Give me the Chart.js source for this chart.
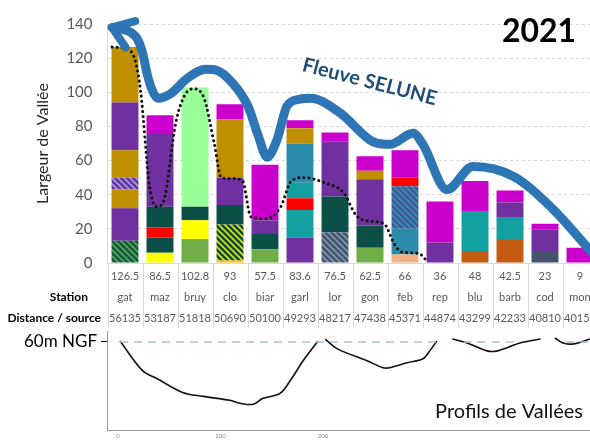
<!DOCTYPE html>
<html>
<head>
<meta charset="utf-8">
<script src="https://cdn.jsdelivr.net/npm/chart.js@4.4.1/dist/chart.umd.min.js"></script>
<style>
  html, body { margin: 0; padding: 0; background: #fff; overflow: hidden; }
  #wrap { position: relative; width: 600px; height: 440px; }
  #valley { position: absolute; left: 0; top: 0; }
  #profiles { position: absolute; left: 0; top: 322px; }
</style>
</head>
<body>
<div id="wrap">
  <canvas id="valley" width="600" height="330"></canvas>
  <canvas id="profiles" width="600" height="118"></canvas>
</div>
<script>
const stations = ['gat', 'maz', 'bruy', 'clo', 'biar', 'garl', 'lor', 'gon', 'feb', 'rep', 'blu', 'barb', 'cod', 'mon'];
const distances = ['56135', '53187', '51818', '50690', '50100', '49293', '48217', '47438', '45371', '44874', '43299', '42233', '40810', '40155'];

// valley width pieces per station, stacked from the bottom up
const layer1 = [13, 6, 14, 1.5, 8, 15, 18, 9, 5, 12, 7, 14, 6.5, 9];
const layer2 = [19, 9, 11, 21, 9, 16, 21, 13, 15, 24, 23, 13, 13, null];
const layer3 = [11, 6, 8, 11.5, 8, 7, 32, 27, 25, null, 18, 8.5, 3.5, null];
const layer4 = [7, 12, 69.8, 16, 32.5, 9, 5.5, 5, 5, null, null, 7, null, null];
const layer5 = [16, 42.5, null, 34, null, 23, null, 8.5, 16, null, null, null, null, null];
const layer6 = [28, 11, null, 9, null, 9, null, null, null, null, null, null, null, null];
const layer7 = [32.5, null, null, null, null, 4.6, null, null, null, null, null, null, null, null];

const fill1 = ['hGreen', 'yellow', 'green', 'amber', 'green', 'purple', 'hSlate', 'green', 'peach', 'purple', 'orange', 'orange', 'slate', 'magenta'];
const fill2 = ['purple', 'dkgreen', 'yellow', 'hYellow', 'dkgreen', 'teal', 'dkgreen', 'dkgreen', 'blueteal', 'magenta', 'teal', 'teal', 'purple', null];
const fill3 = ['gold', 'red', 'dkgreen', 'dkgreen', 'purple', 'red', 'purple', 'purple', 'hTeal', null, 'magenta', 'purple', 'magenta', null];
const fill4 = ['hPurple', 'dkgreen', 'ltgreen', 'purple', 'magenta', 'teal', 'magenta', 'gold', 'red', null, null, 'magenta', null, null];
const fill5 = ['gold', 'purple', null, 'gold', null, 'blueteal', null, 'magenta', 'magenta', null, null, null, null, null];
const fill6 = ['purple', 'magenta', null, 'magenta', null, 'gold', null, null, null, null, null, null, null, null];
const fill7 = ['gold', null, null, null, null, 'magenta', null, null, null, null, null, null, null, null];

// river course (x in station index units)
const riverX = [-0.37, 0.29, 0.49, 0.63, 0.77, 0.94, 1.29, 1.77, 2.3, 2.6, 3.09, 3.51, 3.8, 4.06, 4.34, 4.63, 5.0, 5.3, 6.14, 7.09, 7.57, 8.23, 8.51, 9.2, 9.94, 11.09, 12.23, 13.29, 13.7];
const riverY = [138, 133, 124, 111, 101.5, 96.5, 99, 108, 113.5, 113, 105, 92, 75, 62, 72, 92, 96, 96.5, 88, 71, 69.5, 76, 69.5, 43, 56.5, 50.8, 31.5, 7.3, -2];

// dotted envelope
const dotsX = [-0.37, 0.1, 0.3, 0.45, 0.7, 0.9, 1.1, 1.45, 1.7, 1.95, 2.25, 2.55, 2.75, 3.0, 3.35, 3.6, 4.05, 4.45, 4.75, 5.1, 5.7, 6.25, 6.6, 7.0, 7.4, 7.7, 7.9, 8.4, 8.65];
const dotsY = [126.5, 125, 118, 100, 45, 33, 36, 82, 98, 102, 97, 70, 50, 49.5, 48.5, 27, 26, 33, 48, 50, 47, 41, 28, 24.5, 23, 11, 6.5, 5.5, 0.5];

// valley cross sections, distance (m) / elevation (m NGF)
const prof1Dist = [2, 24, 38, 63, 83, 109, 119, 132, 141.5, 158, 168, 180.5, 195];
const prof1Elev = [60.5, 45.5, 41.5, 34.5, 32.5, 30.5, 29, 28.5, 31.5, 34, 40.5, 50.5, 60.5];
const prof2Dist = [202, 214, 243, 258.5, 265, 282, 297.5, 304, 311];
const prof2Elev = [61.5, 56.5, 50.5, 47, 47, 49.5, 51.5, 55.5, 60.5];
const prof3Dist = [326, 340.5, 360, 370, 392, 412];
const prof3Elev = [61.5, 59.5, 55.5, 55.5, 59.5, 61.5];
const prof4Dist = [426, 434, 444, 460];
const prof4Elev = [62, 59.5, 59, 61.5];
const ngfFrom = [2, 337, 437];
const ngfTo = [311, 389, 460];

Chart.defaults.font.family = "Lato, 'Liberation Sans', sans-serif";
Chart.defaults.animation = false;

const valleyCtx = document.getElementById('valley').getContext('2d');

function hatch(bg, stripe) {
  const c = document.createElement('canvas');
  c.width = c.height = 6;
  const g = c.getContext('2d');
  g.fillStyle = bg;
  g.fillRect(0, 0, 6, 6);
  g.strokeStyle = stripe;
  g.lineWidth = 1.6;
  g.beginPath();
  g.moveTo(-1, -1); g.lineTo(7, 7);
  g.moveTo(-1, 5); g.lineTo(1, 7);
  g.moveTo(5, -1); g.lineTo(7, 1);
  g.stroke();
  return valleyCtx.createPattern(c, 'repeat');
}

const palette = {
  gold: '#bf8f00', purple: '#7030a0', magenta: '#cc00cc', dkgreen: '#0b4f47',
  red: '#ff0000', yellow: '#ffff00', green: '#70ad47', ltgreen: '#99ff99',
  teal: '#12a0a0', blueteal: '#2b8dab', orange: '#c55a11', slate: '#44546a',
  peach: '#f4b183', amber: '#ffc000',
  hGreen: hatch('#14573a', '#58a85a'),
  hPurple: hatch('#7030a0', '#8fa9dc'),
  hYellow: hatch('#0d4d3a', '#e6e600'),
  hSlate: hatch('#44546a', '#8497b0'),
  hTeal: hatch('#2b8dab', '#6a3a9a')
};

const layers = [layer1, layer2, layer3, layer4, layer5, layer6, layer7];
const fills = [fill1, fill2, fill3, fill4, fill5, fill6, fill7];

const totals = stations.map((s, i) => layers.reduce((sum, l) => sum + (l[i] || 0), 0));
const labels = stations.map((s, i) => [String(Number(totals[i].toFixed(1))), s, distances[i]]);

const barSets = layers.map((vals, k) => ({
  type: 'bar',
  data: vals,
  backgroundColor: fills[k].map(f => f ? palette[f] : 'transparent'),
  borderWidth: 0,
  stack: 'valley',
  grouped: false,
  barPercentage: 0.77,
  categoryPercentage: 1,
  order: 10
}));

const riverSet = {
  type: 'line',
  xAxisID: 'xl',
  data: riverX.map((x, i) => ({ x, y: riverY[i] })),
  borderColor: '#2e75b6',
  borderWidth: 9,
  borderCapStyle: 'round',
  borderJoinStyle: 'round',
  pointRadius: 0,
  cubicInterpolationMode: 'monotone',
  clip: false,
  stack: 'river',
  order: 0
};

const dotsSet = {
  type: 'line',
  xAxisID: 'xl',
  data: dotsX.map((x, i) => ({ x, y: dotsY[i] })),
  borderColor: '#111',
  borderWidth: 3,
  borderDash: [0.1, 5],
  borderCapStyle: 'round',
  pointRadius: 0,
  cubicInterpolationMode: 'monotone',
  clip: false,
  stack: 'dots',
  order: 1
};

const valleyDecor = {
  id: 'valleyDecor',
  afterDatasetsDraw(chart) {
    const { ctx } = chart;
    const pts = chart.getDatasetMeta(layers.length).data;
    const tip = pts[0], nxt = pts[1];
    const a = Math.atan2(nxt.y - tip.y, nxt.x - tip.x);
    ctx.save();
    ctx.strokeStyle = '#2e75b6';
    ctx.lineWidth = 8;
    ctx.lineCap = 'round';
    ctx.beginPath();
    [a - 0.62, a + 0.62].forEach(w => {
      ctx.moveTo(tip.x, tip.y);
      ctx.lineTo(tip.x + 24 * Math.cos(w), tip.y + 24 * Math.sin(w));
    });
    ctx.stroke();
    ctx.restore();
  },
  afterDraw(chart) {
    const { ctx, chartArea, scales: { x } } = chart;
    const step = x.getPixelForValue(1) - x.getPixelForValue(0);
    const left = x.getPixelForValue(0) - step / 2;
    ctx.save();
    ctx.strokeStyle = '#d9d9d9';
    ctx.lineWidth = 1;
    ctx.beginPath();
    for (let i = 0; i <= stations.length; i++) {
      const px = Math.round(left + i * step) + 0.5;
      ctx.moveTo(px, chartArea.bottom);
      ctx.lineTo(px, chartArea.bottom + 65);
    }
    ctx.stroke();

    const row = chartArea.bottom + 3 + 10.5;
    ctx.fillStyle = '#000';
    ctx.font = "bold 12px Lato, 'Liberation Sans', sans-serif";
    ctx.textAlign = 'right';
    ctx.textBaseline = 'middle';
    ctx.fillText('Station', 88, row + 21);
    ctx.fillText('Distance / source', 101, row + 42);

    ctx.textAlign = 'center';
    ctx.font = "bold 32px Lato, 'Liberation Sans', sans-serif";
    ctx.fillText('2021', 539, 32);

    ctx.translate(368, 88);
    ctx.rotate(14.5 * Math.PI / 180);
    ctx.fillStyle = '#1f4e79';
    ctx.textBaseline = 'alphabetic';
    ctx.font = "bold 20px Lato, 'Liberation Sans', sans-serif";
    ctx.fillText('Fleuve SELUNE', 0, 0);
    ctx.restore();
  }
};

new Chart(valleyCtx, {
  type: 'bar',
  data: { labels, datasets: [...barSets, riverSet, dotsSet] },
  options: {
    responsive: false,
    events: [],
    layout: { padding: { top: 15, right: 2.5, left: 0, bottom: 0 } },
    plugins: { legend: { display: false }, tooltip: { enabled: false } },
    scales: {
      x: {
        stacked: true,
        offset: true,
        grid: { display: false, drawTicks: false },
        border: { color: '#d9d9d9' },
        ticks: {
          color: '#595959',
          font: { size: 11, lineHeight: '21px' },
          padding: 3,
          maxRotation: 0,
          autoSkip: false
        },
        afterFit(s) { s.height = 67; }
      },
      xl: { type: 'linear', min: -0.5, max: 13.5, offset: false, display: false },
      y: {
        stacked: true,
        min: 0,
        max: 140,
        ticks: { stepSize: 20, color: '#595959', font: { size: 15 }, padding: 15 },
        grid: { color: '#d9d9d9', drawTicks: false },
        border: { color: '#d9d9d9', dash: [3, 3] },
        title: {
          display: true,
          text: 'Largeur de Vallée',
          color: '#222',
          font: { size: 16 },
          padding: { top: 33, bottom: 0 }
        },
        afterFit(s) { s.width = 107.5; }
      }
    }
  },
  plugins: [valleyDecor]
});

function profileLine(dist, elev) {
  return {
    data: dist.map((d, i) => ({ x: d, y: elev[i] })),
    borderColor: '#111',
    borderWidth: 1.6,
    pointRadius: 0,
    tension: 0.35
  };
}

const ngfSets = ngfFrom.map((d, i) => ({
  data: [{ x: d, y: 60 }, { x: ngfTo[i], y: 60 }],
  borderColor: '#9dc3e6',
  borderWidth: 1.6,
  borderDash: [8, 6],
  pointRadius: 0
}));

new Chart(document.getElementById('profiles'), {
  type: 'line',
  data: {
    datasets: [
      ...ngfSets,
      profileLine(prof1Dist, prof1Elev),
      profileLine(prof2Dist, prof2Elev),
      profileLine(prof3Dist, prof3Elev),
      profileLine(prof4Dist, prof4Elev)
    ]
  },
  options: {
    responsive: false,
    events: [],
    layout: { padding: { top: 8, right: 0, left: 0, bottom: 0 } },
    plugins: { legend: { display: false }, tooltip: { enabled: false } },
    scales: {
      x: {
        type: 'linear',
        min: -10.7,
        max: 470,
        afterBuildTicks(s) { s.ticks = [0, 100, 200].map(v => ({ value: v })); },
        ticks: { color: '#888', font: { size: 6 }, padding: 2 },
        grid: { display: false, drawTicks: false },
        border: { color: '#999' },
        afterFit(s) { s.height = 10; }
      },
      y: {
        type: 'linear',
        min: 15.5,
        max: 65.5,
        afterBuildTicks(s) { s.ticks = [{ value: 60 }]; },
        ticks: { callback: () => '60m NGF', color: '#000', font: { size: 17, lineHeight: 0.6 }, padding: 4 },
        grid: { drawOnChartArea: false, tickLength: 6, color: '#000' },
        border: { color: '#999' },
        afterFit(s) { s.width = 107; }
      }
    }
  },
  plugins: [{
    id: 'profileTitle',
    afterDraw(chart) {
      const { ctx } = chart;
      ctx.save();
      ctx.fillStyle = '#111';
      ctx.font = "20px Lato, 'Liberation Sans', sans-serif";
      ctx.textAlign = 'center';
      ctx.textBaseline = 'middle';
      ctx.fillText('Profils de Vallées', 509, 90);
      ctx.restore();
    }
  }]
});
</script>
</body>
</html>
